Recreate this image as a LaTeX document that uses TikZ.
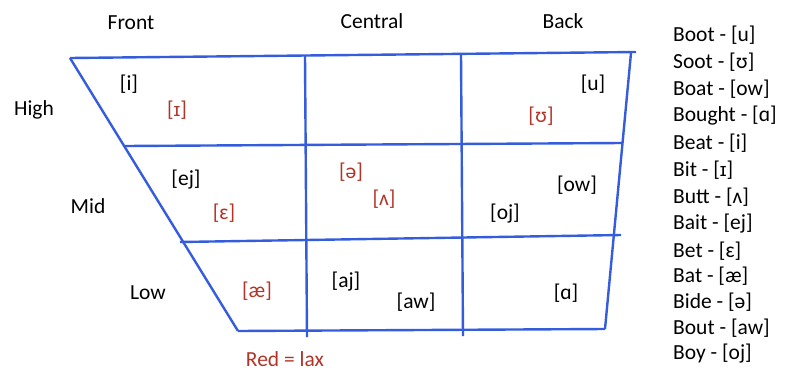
\documentclass[tikz,border=0pt]{standalone}
\usepackage{fontspec}
\setmainfont{Carlito}
\newfontfamily\ipafont{Liberation Sans}
\newcommand{\smallcapI}{{\ipafont\fontsize{19}{19}\selectfont ɪ}}
\definecolor{gridblue}{RGB}{52,92,220}
\definecolor{laxred}{RGB}{178,52,40}
\begin{document}
\begin{tikzpicture}[x=1pt,y=-1pt,
  gridline/.style={draw=gridblue,line width=2.4pt},
  lbl/.style={font=\fontsize{21.5}{21.5}\selectfont,inner sep=0pt,text=black},
  tense/.style={lbl},
  lax/.style={lbl,text=laxred},
  item/.style={lbl,anchor=west}]
\useasboundingbox (0,0) rectangle (796,373);
% corners
\coordinate (TL) at (70,58);
\coordinate (TR) at (636,52);
\coordinate (TRe) at (631,53);
\coordinate (BL) at (238,331);
\coordinate (BR) at (605,329);
\coordinate (H1L) at (125,146);
\coordinate (H1R) at (622,143);
\coordinate (H2L) at (180,242);
\coordinate (H2R) at (621,235);
\coordinate (V1T) at (305,56);
\coordinate (V1B) at (307,337);
\coordinate (V2T) at (461,54);
\coordinate (V2B) at (463,336);
\draw[gridline] (TL) -- (TR);
\draw[gridline] (TL) -- (BL);
\draw[gridline] (BL) -- (BR);
\draw[gridline] (TRe) -- (BR);
\draw[gridline] (H1L) -- (H1R);
\draw[gridline] (H2L) -- (H2R);
\draw[gridline] (V1T) -- (V1B);
\draw[gridline] (V2T) -- (V2B);
% headers
\node[lbl] (front) at (131,23) {Front};
\node[lbl] (central) at (372,21) {Central};
\node[lbl] (back) at (563,21) {Back};
\node[lbl] (high) at (34,110) {High};
\node[lbl] (mid) at (88,206) {Mid};
\node[lbl] (low) at (148,293) {Low};
% vowels
\node[tense] (i) at (129,84) {[i]};
\node[lax] (I) at (177,110) {[\smallcapI]};
\node[tense] (u) at (593,84) {[u]};
\node[lax] (U) at (541,116) {[ʊ]};
\node[tense] (ej) at (186,180) {[ej]};
\node[lax] (E) at (224,213) {[ɛ]};
\node[lax] (schwa) at (351,172) {[ə]};
\node[lax] (wedge) at (384,199) {[ʌ]};
\node[tense] (ow) at (577,185) {[ow]};
\node[tense] (oj) at (505,214) {[oj]};
\node[lax] (ae) at (257,291) {[æ]};
\node[tense] (aj) at (346,282) {[aj]};
\node[tense] (aw) at (416,302) {[aw]};
\node[tense] (a) at (566,293) {[ɑ]};
\node[lax] (key) at (285,359) {Red = lax};
% word list
\node[item] (w1) at (673,35) {Boot - [u]};
\node[item] (w2) at (673,62) {Soot - [ʊ]};
\node[item] (w3) at (673,89) {Boat - [ow]};
\node[item] (w4) at (673,116) {Bought - [ɑ]};
\node[item] (w5) at (673,143) {Beat - [i]};
\node[item] (w6) at (673,170) {Bit - [\smallcapI]};
\node[item] (w7) at (673,197) {Butt - [ʌ]};
\node[item] (w8) at (673,224) {Bait - [ej]};
\node[item] (w9) at (673,251) {Bet - [ɛ]};
\node[item] (w10) at (673,276) {Bat - [æ]};
\node[item] (w11) at (673,302) {Bide - [ə]};
\node[item] (w12) at (673,328.5) {Bout - [aw]};
\node[item] (w13) at (673,354) {Boy - [oj]};
\end{tikzpicture}
\end{document}
